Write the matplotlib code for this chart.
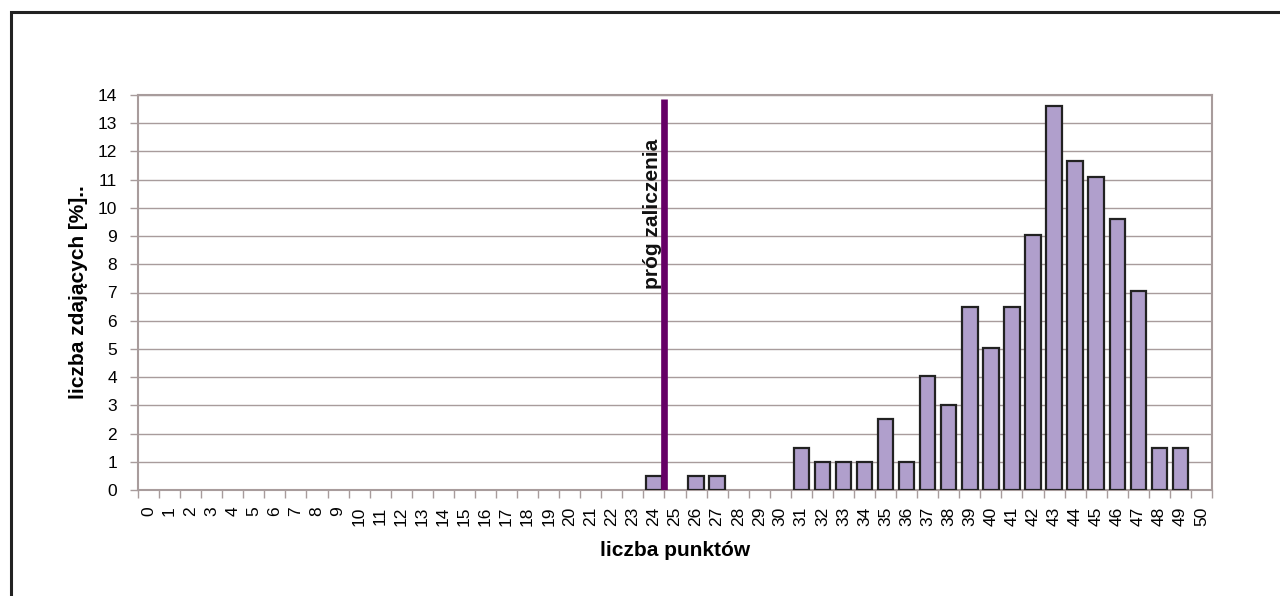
import matplotlib
matplotlib.use("Agg")
import matplotlib.pyplot as plt
import numpy as np

plt.rcParams['font.family'] = ['Liberation Sans', 'DejaVu Sans']

# liczba punktow 0..50
points = list(range(0, 51))
# odsetek zdajacych [%]
percent = [0, 0, 0, 0, 0, 0, 0, 0, 0, 0,
           0, 0, 0, 0, 0, 0, 0, 0, 0, 0,
           0, 0, 0, 0, 0.5, 0, 0.5, 0.5, 0, 0,
           0, 1.5, 1, 1, 1, 2.5, 1, 4.05, 3, 6.5,
           5.05, 6.5, 9.05, 13.6, 11.65, 11.1, 9.6, 7.05, 1.5, 1.5,
           0]
threshold = 24.5
threshold_label = 'próg zaliczenia'
y_ticks = list(range(0, 15))

grid_col = '#a89c9c'

fig = plt.figure(figsize=(12.8, 5.96), dpi=100)
ax = fig.add_axes([138 / 1280, 1 - 490 / 596, (1212 - 138) / 1280, (490 - 95) / 596])

x = np.arange(len(points))
vals = np.array(percent)
nz = vals > 0
ax.bar(x[nz], vals[nz], width=0.73, color='#b09fcc', edgecolor='#222222', linewidth=1.6, zorder=3)

ax.plot([threshold, threshold], [0, 13.85], color='#660066', linewidth=4.8, zorder=4, solid_capstyle='butt')
ax.text(threshold - 0.1, 9.78, threshold_label, rotation=90, ha='right', va='center',
        fontsize=15, fontweight='bold', color='#111111', zorder=5)

ax.set_xlim(-0.5, len(points) - 0.5)
ax.set_ylim(0, 14)
ax.set_yticks(y_ticks)
ax.set_yticklabels([str(v) for v in y_ticks], fontsize=12.5)
ax.set_xticks(x)
ax.set_xticklabels([str(p) for p in points], rotation=90, fontsize=12.5)
ax.set_xticks(np.arange(-0.5, len(points)), minor=True)
ax.tick_params(axis='x', which='major', length=0, pad=12)
ax.tick_params(axis='x', which='minor', length=6, color=grid_col, width=1)
ax.tick_params(axis='y', length=6, color=grid_col, width=1, pad=9)

ax.grid(axis='y', color=grid_col, linewidth=1, zorder=0)
for s in ax.spines.values():
    s.set_color(grid_col)
    s.set_linewidth(1.5)

ax.set_xlabel('liczba punktów', fontsize=15, fontweight='bold', labelpad=11)
ax.set_ylabel('liczba zdających [%]..', fontsize=15, fontweight='bold', labelpad=7)

# ramka wykresu
fig.add_artist(plt.Rectangle((11 / 1280, -0.1), 1.2, 1 - 12 / 596 + 0.1, transform=fig.transFigure,
                             fill=False, edgecolor='#222222', linewidth=2.2))

fig.savefig('out.png', dpi=100)
